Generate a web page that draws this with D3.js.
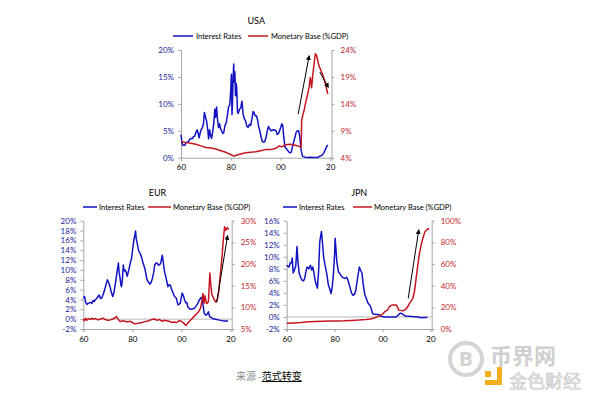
<!DOCTYPE html>
<html>
<head>
<meta charset="utf-8">
<script src="https://cdn.jsdelivr.net/npm/d3@7"></script>
<style>
body { margin: 0; background: #fff; }
svg { display: block; }
</style>
</head>
<body>
<div id="chart"></div>
<script>
// x axis (years shown as two digits)
var yearTicks = [1960, 1980, 2000, 2020]
var yearLabels = ["60", "80", "00", "20"]

// tick labels for each panel
var usaLeftTicks = [0, 5, 10, 15, 20]
var usaRightTicks = [4, 9, 14, 19, 24]
var eurLeftTicks = [-2, 0, 2, 4, 6, 8, 10, 12, 14, 16, 18, 20]
var eurRightTicks = [5, 10, 15, 20, 25, 30]
var jpnLeftTicks = [-2, 0, 2, 4, 6, 8, 10, 12, 14, 16]
var jpnRightTicks = [0, 20, 40, 60, 80, 100]

var seriesNames = ["Interest Rates", "Monetary Base (%GDP)"]

// [year, %]
var usaRate = [[1960,4.3],[1960.3,3.2],[1960.6,2.4],[1961,2.3],[1961.5,2.3],[1962,2.8],[1962.5,2.9],[1963,3.0],[1963.5,3.4],[1964,3.6],[1964.5,3.5],[1965,3.9],[1965.5,4.0],[1966,4.7],[1966.5,5.2],[1967,4.3],[1967.3,3.7],[1967.7,4.6],[1968,5.1],[1968.5,5.5],[1969,6.2],[1969.4,8.4],[1969.8,7.6],[1970.3,6.8],[1970.8,5.0],[1971.1,3.5],[1971.5,5.2],[1971.9,4.1],[1972.3,3.6],[1972.8,5.0],[1973.2,6.5],[1973.6,9.0],[1973.9,7.5],[1974.3,9.4],[1974.7,7.0],[1975.1,5.6],[1975.5,6.3],[1975.9,5.4],[1976.3,5.0],[1976.8,4.5],[1977.2,4.7],[1977.7,6.0],[1978.2,6.5],[1978.7,8.0],[1979.1,9.4],[1979.6,9.8],[1980,12.5],[1980.2,15.0],[1980.3,15.5],[1980.4,11.0],[1980.5,8.0],[1980.7,10.5],[1980.9,14.0],[1981,15.0],[1981.1,16.5],[1981.2,17.4],[1981.3,14.0],[1981.4,14.5],[1981.6,16.0],[1981.7,15.5],[1981.9,11.5],[1982,12.5],[1982.2,13.8],[1982.4,13.0],[1982.6,10.0],[1982.7,8.5],[1983,8.2],[1983.5,9.0],[1984,9.2],[1984.5,10.5],[1985,8.0],[1985.5,7.2],[1986,6.8],[1986.5,5.8],[1987,5.6],[1987.5,6.2],[1988,6.0],[1988.5,7.2],[1989,8.6],[1989.4,8.3],[1989.8,7.8],[1990.3,7.8],[1990.8,7.0],[1991.2,5.8],[1991.7,5.0],[1992.2,3.8],[1992.7,3.0],[1993.2,2.9],[1993.7,3.0],[1994.2,3.8],[1994.7,5.0],[1995.2,5.8],[1995.7,5.3],[1996.2,5.0],[1996.7,5.1],[1997.2,5.2],[1997.7,5.1],[1998.2,5.0],[1998.7,4.3],[1999.2,4.5],[1999.7,5.1],[2000.2,5.8],[2000.5,6.3],[2000.9,6.0],[2001.3,3.9],[2001.8,2.0],[2002.3,1.7],[2002.8,1.4],[2003.3,1.1],[2003.8,0.9],[2004.3,1.0],[2004.8,2.0],[2005.3,2.9],[2005.8,3.8],[2006.3,4.7],[2006.8,5.0],[2007.3,5.0],[2007.7,4.0],[2008,2.8],[2008.3,1.4],[2008.8,0.3],[2009.2,0.2],[2010,0.1],[2011,0.05],[2012,0.1],[2013,0.05],[2014,0.03],[2015,0.05],[2015.9,0.3],[2016.5,0.4],[2017,0.6],[2017.5,1.0],[2018,1.5],[2018.5,2.0],[2019,2.4]]
var usaBase = [[1960,7.0],[1962,6.8],[1964,6.7],[1966,6.5],[1968,6.2],[1970,5.9],[1972,5.8],[1974,5.6],[1976,5.3],[1978,5.0],[1980,4.6],[1981.3,4.3],[1982.5,4.5],[1984,4.7],[1986,4.9],[1988,5.0],[1990,5.1],[1992,5.3],[1994,5.5],[1996,5.5],[1998,5.7],[1999.5,6.2],[2000.5,6.0],[2002,6.4],[2004,6.5],[2006,6.3],[2007.5,6.1],[2008.3,5.9],[2008.5,10.9],[2009,12.0],[2009.5,12.8],[2010,14.0],[2010.5,15.0],[2011,16.0],[2011.5,17.1],[2012,18.9],[2012.5,17.0],[2013,19.5],[2013.5,21.4],[2014,23.3],[2014.5,23.0],[2015,22.0],[2015.5,21.0],[2016,20.5],[2016.5,19.9],[2017,19.4],[2017.5,18.6],[2018,17.8],[2018.5,16.8],[2019,15.8]]

var eurRate = [[1960,4.3],[1960.5,4.6],[1961,3.4],[1961.5,3.0],[1962,3.2],[1962.5,3.3],[1963,3.4],[1963.5,3.2],[1964,3.8],[1964.5,3.6],[1965,4.0],[1965.5,4.2],[1966,4.6],[1966.5,4.9],[1967,4.2],[1967.5,4.3],[1968,4.9],[1968.5,5.6],[1969,6.5],[1969.8,8.0],[1970.3,7.5],[1970.9,6.6],[1971.5,5.3],[1972,4.6],[1972.5,5.4],[1973,7.0],[1973.6,9.0],[1974.3,11.4],[1974.6,9.5],[1974.9,8.7],[1975.3,7.0],[1975.6,6.6],[1976,8.5],[1976.3,11.0],[1976.6,9.8],[1977,10.0],[1977.5,9.5],[1977.9,8.7],[1978.3,9.5],[1978.7,10.3],[1979.2,11.5],[1979.7,12.4],[1980.2,14.5],[1980.6,16.1],[1981,17.0],[1981.3,17.9],[1981.6,16.2],[1982,15.4],[1982.4,14.2],[1982.8,13.7],[1983.3,13.2],[1983.7,12.7],[1984.3,11.5],[1985.1,10.3],[1985.6,9.0],[1986,8.0],[1986.6,7.5],[1987.1,7.1],[1987.6,7.4],[1988.2,8.3],[1988.7,9.5],[1989.1,11.0],[1989.6,11.4],[1990.1,11.4],[1990.6,11.0],[1991.1,11.0],[1991.6,11.5],[1992.2,13.0],[1992.5,12.0],[1992.8,10.7],[1993.2,9.5],[1993.6,8.7],[1994.1,7.5],[1994.5,6.6],[1995,7.0],[1995.5,6.9],[1996,6.0],[1996.6,5.3],[1997.2,4.6],[1997.9,4.3],[1998.6,2.9],[1999,3.0],[1999.5,3.2],[2000,4.5],[2000.3,5.3],[2000.8,4.8],[2001.3,3.9],[2001.8,3.3],[2002.2,3.4],[2002.6,2.5],[2003.3,2.1],[2004,2.0],[2004.7,2.1],[2005.3,2.2],[2005.9,2.6],[2006.7,3.2],[2007.3,3.9],[2008,4.4],[2008.5,4.2],[2008.8,2.9],[2009.3,1.2],[2010,0.8],[2010.5,1.0],[2011,1.5],[2011.5,0.5],[2012.2,0.3],[2012.8,0.1],[2014,0.0],[2015.5,-0.2],[2017,-0.35],[2018,-0.35],[2019,-0.35]]
var eurBase = [[1960,7.3],[1960.5,6.9],[1961,7.5],[1961.5,7.0],[1962,7.4],[1963,7.2],[1963.5,7.5],[1964,7.3],[1965,7.4],[1966,7.1],[1967,7.3],[1968,7.5],[1969,7.2],[1970,7.0],[1971,7.1],[1972,7.3],[1973,7.6],[1973.5,7.9],[1974,7.4],[1975,6.7],[1976,6.9],[1977,6.8],[1978,6.6],[1979,6.8],[1980,6.5],[1981,6.2],[1982,6.3],[1983,6.4],[1984,6.5],[1985,6.7],[1986,6.8],[1987,7.0],[1988,7.2],[1989,7.3],[1990,7.0],[1991,7.2],[1992,6.8],[1993,7.0],[1994,6.9],[1995,6.8],[1996,6.5],[1997,6.6],[1998,6.5],[1999,6.9],[2000,6.8],[2001,6.3],[2001.8,5.8],[2002.5,6.3],[2003,6.6],[2004,7.2],[2005,7.8],[2006,8.4],[2007,9.0],[2007.8,9.8],[2008.3,11.3],[2008.8,13.2],[2009.2,10.9],[2009.6,12.7],[2010.2,10.9],[2010.6,11.0],[2011,11.3],[2011.3,14.5],[2011.6,17.9],[2012,15.2],[2012.4,13.0],[2012.8,12.5],[2013.5,11.6],[2014.1,11.2],[2014.7,12.0],[2015.2,13.6],[2015.6,16.0],[2016.1,19.0],[2016.6,22.0],[2017,25.1],[2017.3,27.0],[2017.6,28.6],[2018.1,27.8],[2018.5,28.3],[2018.8,28.4],[2019.2,27.9]]

var jpnRate = [[1960,8.6],[1960.5,8.4],[1961,8.3],[1961.5,9.0],[1962,9.0],[1962.3,9.8],[1962.7,7.3],[1963.2,7.8],[1963.8,8.5],[1964.3,11.7],[1964.7,9.2],[1965.2,7.3],[1965.8,6.6],[1966.4,6.1],[1967,6.0],[1967.5,6.4],[1968,7.5],[1968.5,8.3],[1969.2,8.0],[1969.9,8.6],[1970.4,7.8],[1970.9,8.3],[1971.5,7.0],[1972,5.8],[1972.8,4.8],[1973.3,7.5],[1973.8,12.5],[1974.2,13.5],[1974.5,14.2],[1974.9,12.5],[1975.4,10.0],[1976,8.6],[1976.7,7.2],[1977.4,5.3],[1978,4.6],[1978.5,3.9],[1979,5.0],[1979.5,7.2],[1980,10.5],[1980.2,13.1],[1980.6,11.0],[1980.9,9.2],[1981.6,7.5],[1982,7.3],[1982.5,7.0],[1983,6.7],[1983.7,6.5],[1984.4,6.4],[1985,6.6],[1985.5,6.2],[1986,5.5],[1986.5,4.8],[1987,4.0],[1987.7,3.6],[1988.3,3.8],[1988.8,4.3],[1989.2,5.5],[1989.8,7.0],[1990.3,8.3],[1990.8,7.8],[1991.4,7.3],[1991.9,5.5],[1992.6,3.7],[1993.3,3.0],[1993.8,2.4],[1994.3,2.1],[1994.9,1.8],[1995.4,1.2],[1995.8,0.6],[1996.1,0.5],[1997.4,0.4],[1998.5,0.4],[1999.5,0.1],[2000.9,0.0],[2002,0.0],[2003.6,0.0],[2005.7,0.0],[2006.3,0.2],[2006.7,0.4],[2007.3,0.6],[2007.8,0.6],[2008.4,0.5],[2008.9,0.3],[2009.8,0.1],[2011,0.1],[2013.3,0.05],[2015,0.0],[2016,-0.15],[2017,-0.1],[2018,-0.1],[2018.7,-0.05]]
var jpnBase = [[1960,5.2],[1963,5.6],[1966,6.0],[1969,6.8],[1972,7.0],[1975,7.2],[1978,7.4],[1981,7.5],[1984,7.6],[1987,7.9],[1990,8.2],[1993,8.7],[1995,9.2],[1996.5,10.2],[1998,11.4],[1999.5,12.9],[2000.3,14.5],[2000.9,16.0],[2002,17.5],[2002.9,20.6],[2003.6,21.8],[2004.3,22.2],[2005.7,22.2],[2006.2,20.5],[2006.7,17.5],[2007.5,17.2],[2008.5,16.9],[2009.2,17.5],[2009.8,18.5],[2010.5,20.5],[2011.2,23.7],[2012,26.0],[2012.6,28.3],[2013.3,34.4],[2014,46.8],[2014.7,59.1],[2015.4,69.9],[2016.1,77.6],[2016.8,83.7],[2017.7,89.9],[2018.8,92.5],[2019.5,92.0]]

// hand drawn arrows: [year0, right%0, year1, right%1]
var usaArrows = [[2007.1, 12.1, 2011.5, 22.9], [2015.8, 19.9, 2019.2, 17.1]]
var eurArrows = [[2014.4, 11.2, 2018.8, 26.5]]
var jpnArrows = [[2010.7, 28.3, 2015.1, 91.4]]

var blue = "#1212c4", red = "#c41620"
var font = "Lato, 'Open Sans', sans-serif"

var svg = d3.select("#chart").append("svg")
    .attr("width", 600)
    .attr("height", 396)

svg.append("defs").append("marker")
    .attr("id", "head")
    .attr("viewBox", "0 0 10 10")
    .attr("refX", 8).attr("refY", 5)
    .attr("markerWidth", 5).attr("markerHeight", 5)
    .attr("markerUnits", "userSpaceOnUse")
    .attr("orient", "auto")
    .append("path").attr("d", "M0,0L10,5L0,10z").attr("fill", "#000")

function panel(p) {
    var x = d3.scaleLinear().domain([1960, 2020.5]).range([p.left, p.right])
    var yL = d3.scaleLinear().domain(d3.extent(p.leftTicks)).range([p.bottom, p.top])
    var yR = d3.scaleLinear().domain(d3.extent(p.rightTicks)).range([p.bottom, p.top])
    var g = svg.append("g")

    g.append("text")
        .attr("x", (p.left + p.right) / 2)
        .attr("y", p.titleY)
        .attr("text-anchor", "middle")
        .style("font-family", font)
        .style("font-size", "9px")
        .text(p.title)

    // legend
    var lg = g.append("g").style("font-family", font).style("font-size", "7.5px")
    lg.append("line").attr("x1", p.legend[0]).attr("x2", p.legend[1])
        .attr("y1", p.legendY).attr("y2", p.legendY)
        .attr("stroke", blue).attr("stroke-width", 1.5)
    lg.append("text").attr("x", p.legend[2]).attr("y", p.legendY + 2.5).text(seriesNames[0])
    lg.append("line").attr("x1", p.legend[3]).attr("x2", p.legend[4])
        .attr("y1", p.legendY).attr("y2", p.legendY)
        .attr("stroke", red).attr("stroke-width", 1.5)
    lg.append("text").attr("x", p.legend[5]).attr("y", p.legendY + 2.5).text(seriesNames[1])

    // zero line when the left axis goes negative
    if (yL.domain()[0] < 0) {
        g.append("line")
            .attr("x1", p.left).attr("x2", p.right)
            .attr("y1", yL(0)).attr("y2", yL(0))
            .attr("stroke", "#a6a6a6").attr("stroke-width", 0.8)
    }

    g.append("g")
        .attr("transform", "translate(0," + p.bottom + ")")
        .call(d3.axisBottom(x).tickValues(yearTicks).tickFormat((d, i) => yearLabels[i]).tickSize(3).tickPadding(4))
        .call(a => {
            a.select(".domain").attr("stroke", "#a6a6a6")
            a.selectAll("line").attr("stroke", "#a6a6a6")
            a.selectAll("text").attr("fill", "#000").style("font-family", font).style("font-size", "8px")
        })

    g.append("g")
        .attr("transform", "translate(" + p.left + ",0)")
        .call(d3.axisLeft(yL).tickValues(p.leftTicks).tickFormat(d => d + "%").tickSize(3).tickPadding(4).tickSizeOuter(0))
        .call(a => {
            a.select(".domain").attr("stroke", "#a6a6a6")
            a.selectAll("line").attr("stroke", "#a6a6a6")
            a.selectAll("text").attr("fill", "#22229a").style("font-family", font).style("font-size", "8px")
        })

    g.append("g")
        .attr("transform", "translate(" + p.right + ",0)")
        .call(d3.axisRight(yR).tickValues(p.rightTicks).tickFormat(d => d + "%").tickSize(3).tickPadding(6).tickSizeOuter(0))
        .call(a => {
            a.select(".domain").attr("stroke", "#a6a6a6")
            a.selectAll("line").attr("stroke", "#a6a6a6")
            a.selectAll("text").attr("fill", "#c0282e").style("font-family", font).style("font-size", "8px")
        })

    g.append("path")
        .datum(p.rate)
        .attr("fill", "none")
        .attr("stroke", blue)
        .attr("stroke-width", 1.5)
        .attr("stroke-linejoin", "round")
        .attr("d", d3.line().x(d => x(d[0])).y(d => yL(d[1])))

    g.append("path")
        .datum(p.base)
        .attr("fill", "none")
        .attr("stroke", red)
        .attr("stroke-width", 1.5)
        .attr("stroke-linejoin", "round")
        .attr("d", d3.line().x(d => x(d[0])).y(d => yR(d[1])))

    g.selectAll(".arrow").data(p.arrows).enter().append("line")
        .attr("class", "arrow")
        .attr("x1", d => x(d[0])).attr("y1", d => yR(d[1]))
        .attr("x2", d => x(d[2])).attr("y2", d => yR(d[3]))
        .attr("stroke", "#000")
        .attr("stroke-width", 1)
        .attr("marker-end", "url(#head)")
}

panel({
    title: "USA", titleY: 24, legendY: 36, legend: [173, 193, 196, 248, 268, 271],
    left: 181, right: 331.5, top: 50, bottom: 157.7,
    leftTicks: usaLeftTicks, rightTicks: usaRightTicks,
    rate: usaRate, base: usaBase, arrows: usaArrows
})
panel({
    title: "EUR", titleY: 196, legendY: 207, legend: [83, 97, 99, 148, 171, 173],
    left: 83.3, right: 231.7, top: 220.7, bottom: 329,
    leftTicks: eurLeftTicks, rightTicks: eurRightTicks,
    rate: eurRate, base: eurBase, arrows: eurArrows
})
panel({
    title: "JPN", titleY: 196, legendY: 207, legend: [283, 297, 299, 353, 372, 374],
    left: 286.7, right: 431.7, top: 220.7, bottom: 329,
    leftTicks: jpnLeftTicks, rightTicks: jpnRightTicks,
    rate: jpnRate, base: jpnBase, arrows: jpnArrows
})

// source line
var cap = svg.append("text")
    .attr("x", 236).attr("y", 380)
    .style("font-family", "'Noto Sans CJK SC', sans-serif")
    .style("font-size", "10px")
cap.append("tspan").attr("fill", "#8a8a8a").text("来源 -")
cap.append("tspan").attr("fill", "#000").style("text-decoration", "underline").text("范式转变")

// watermark
var wm = svg.append("g")
wm.append("circle").attr("cx", 466).attr("cy", 359).attr("r", 16)
    .attr("fill", "none").attr("stroke", "#d4d4d4").attr("stroke-width", 4)
wm.append("text").attr("x", 466).attr("y", 366).attr("text-anchor", "middle")
    .style("font-family", "'DejaVu Sans', sans-serif").style("font-size", "19px").style("font-weight", "bold")
    .attr("fill", "#d4d4d4").text("B")
wm.append("text").attr("x", 490).attr("y", 364)
    .style("font-family", "'Noto Sans CJK SC', sans-serif").style("font-size", "22px").style("font-weight", "bold")
    .attr("fill", "#cfcfcf").text("币界网")
wm.append("path").attr("d", "M497,367h5v18h-17v-5h12z M485,371h6v6h-6z").attr("fill", "#f2ae1c")
wm.append("text").attr("x", 509).attr("y", 388)
    .style("font-family", "'Noto Sans CJK SC', sans-serif").style("font-size", "18px")
    .attr("fill", "#ececec").attr("stroke", "#c4c4c4").attr("stroke-width", 0.6).text("金色财经")
</script>
</body>
</html>
